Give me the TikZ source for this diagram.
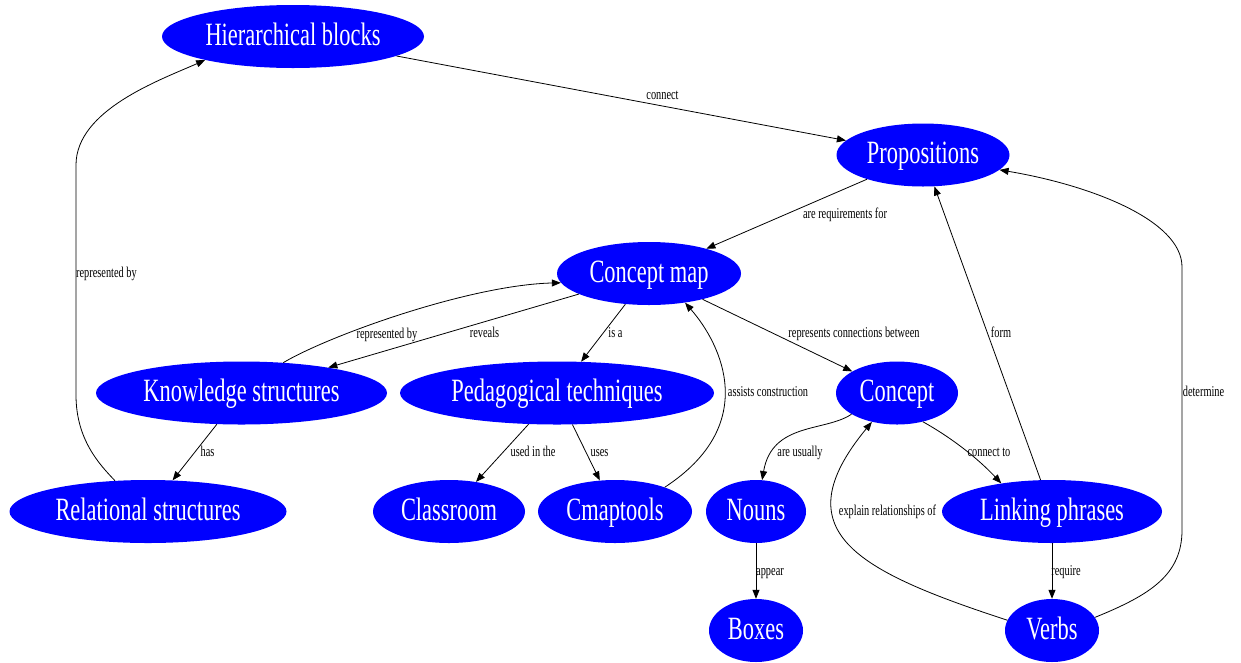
\documentclass[tikz,border=0pt]{standalone}
\usepackage{fontspec}
\setmainfont{Liberation Serif}
\newfontfamily\narrowserif[FakeStretch=0.69]{Liberation Serif}
\usetikzlibrary{arrows.meta,shapes.geometric}
\definecolor{conceptblue}{RGB}{0,0,255}
\tikzset{
  cnode/.style={ellipse, fill=conceptblue, draw=none, text=white, inner sep=0pt,
    minimum height=63pt, text height=24pt, text depth=6.6pt,
    font=\narrowserif\fontsize{32.5}{36}\selectfont},
  link/.style={draw=black, line width=0.8pt, -{Triangle[length=9pt,width=7pt]}},
  lbl/.style={inner sep=0pt, text=black, text height=11pt, text depth=3pt,
    font=\narrowserif\fontsize{15}{17}\selectfont},
}
\begin{document}
\begin{tikzpicture}[x=1pt,y=-1pt]
\useasboundingbox (0,0) rectangle (1241,662);
\fill[white] (0,0) rectangle (1241,662);

% concepts
\node[cnode, minimum width=262pt] (hb)      at (293,36.5)  {Hierarchical blocks};
\node[cnode, minimum width=173pt] (prop)    at (923,155)   {Propositions};
\node[cnode, minimum width=184pt] (cm)      at (649,273.5) {Concept map};
\node[cnode, minimum width=291pt] (ks)      at (241.5,393) {Knowledge structures};
\node[cnode, minimum width=314pt] (pt)      at (557,393)   {Pedagogical techniques};
\node[cnode, minimum width=122pt] (concept) at (897,393)   {Concept};
\node[cnode, minimum width=277pt] (rs)      at (148,511.5) {Relational structures};
\node[cnode, minimum width=152pt] (class)   at (449,511.5) {Classroom};
\node[cnode, minimum width=154pt] (cmap)    at (615,511.5) {Cmaptools};
\node[cnode, minimum width=100pt] (nouns)   at (756,511.5) {Nouns};
\node[cnode, minimum width=220pt] (lp)      at (1052,511.5) {Linking phrases};
\node[cnode, minimum width=94pt]  (boxes)   at (756,630.5) {Boxes};
\node[cnode, minimum width=94pt]  (verbs)   at (1052,630.5) {Verbs};

% relations
\draw[link] (hb) -- (prop);
\draw[link] (prop) -- (cm);
\draw[link] (cm) -- (ks);
\draw[link] (ks.36) .. controls (330,335) and (470,285) .. (cm.186);
\draw[link] (cm) -- (pt);
\draw[link] (cm) -- (concept);
\draw[link] (cmap.26) .. controls (760,425) and (722,345) .. (cm.-39);
\draw[link] (pt) -- (class);
\draw[link] (pt) -- (cmap);
\draw[link] (ks) -- (rs);
\draw[link] (rs.137) .. controls (100,465) and (76,440) .. (76,395) -- (76,165)
  .. controls (76,110) and (160,80) .. (hb.195);
\draw[link] (concept.205) .. controls (825,432) and (772,422) .. (nouns.79);
\draw[link] (concept.-48) .. controls (952,438) and (978,458.6) .. (lp.151);
\draw[link] (lp) -- (prop);
\draw[link] (verbs.17) .. controls (1150,595) and (1182,575) .. (1182,530) -- (1182,267)
  .. controls (1182,220) and (1090,185) .. (prop.-11);
\draw[link] (verbs.167) .. controls (855,570.5) and (782,531) .. (concept.229);
\draw[link] (nouns) -- (boxes);
\draw[link] (lp) -- (verbs);

% relation labels
\node[lbl] (t-connect)   at (662.5,95)  {connect};
\node[lbl] (t-req)       at (845,214)   {are requirements for};
\node[lbl] (t-repr-hb)   at (106.5,273) {represented by};
\node[lbl] (t-repr-cm)   at (387,334)   {represented by};
\node[lbl] (t-reveals)   at (484.5,333) {reveals};
\node[lbl] (t-isa)       at (615.5,333) {is a};
\node[lbl] (t-conn-betw) at (854,333)   {represents connections between};
\node[lbl] (t-form)      at (1001,333)  {form};
\node[lbl] (t-assists)   at (768,392)   {assists construction};
\node[lbl] (t-determine) at (1203.5,392) {determine};
\node[lbl] (t-has)       at (207.5,452) {has};
\node[lbl] (t-usedin)    at (533,452)   {used in the};
\node[lbl] (t-uses)      at (599.5,452) {uses};
\node[lbl] (t-usually)   at (800,452)   {are usually};
\node[lbl] (t-connto)    at (989,452)   {connect to};
\node[lbl] (t-explain)   at (887.5,511.7) {explain relationships of};
\node[lbl] (t-appear)    at (770,571)   {appear};
\node[lbl] (t-require)   at (1066,571)  {require};
\end{tikzpicture}
\end{document}
